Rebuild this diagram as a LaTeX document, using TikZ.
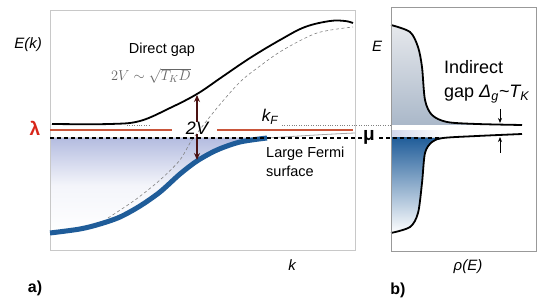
\documentclass[tikz,border=0pt]{standalone}
\usepackage[no-math]{fontspec}
\setmainfont{Liberation Sans}
\usetikzlibrary{arrows.meta, positioning}
\definecolor{bandblue}{HTML}{1F5C99}
\definecolor{fermired}{HTML}{C9553A}
\definecolor{lamred}{HTML}{D8261A}
\definecolor{gapbrown}{HTML}{4B1212}
\definecolor{shadelav}{HTML}{B4BCE0}
\definecolor{dosgray}{HTML}{E6E8EC}
\definecolor{dosblue}{HTML}{AAB8C9}
\definecolor{framegray}{HTML}{C8C8C8}

\begin{document}
\begin{tikzpicture}[x=1pt, y=-1pt, >=Stealth,
  lbl/.style={inner sep=0pt, font=\fontsize{15}{18}\selectfont\itshape},
  txt/.style={inner sep=0pt, align=left, font=\fontsize{14.5}{19}\selectfont},
  tag/.style={inner sep=0pt, font=\fontsize{16}{18}\selectfont\bfseries},
  gaparrow/.style={->, gapbrown, line width=1.4pt, >={Stealth[length=7pt,width=6pt]}},
  dosarrow/.style={->, line width=0.8pt, >={Stealth[length=5pt,width=4pt]}}]
  \useasboundingbox (0,0) rectangle (554,307);

  % panel a: bands
  \fill[top color=shadelav, bottom color=white, middle color=shadelav!15] (50,138) -- plot[smooth] coordinates
    {(267,138) (240,142) (217,150) (197,161) (180,174) (160,192) (140,206) (120,217) (100,224) (80,229) (50,233)} -- cycle;
  \draw[framegray, line width=1pt] (50,11) rectangle (355,250);
  \draw[fermired, line width=1.2pt] (50,130) -- (172,130) (217,130) -- (353,130);
  \draw[gray, dash pattern=on 3pt off 2.5pt, line width=0.6pt] plot[smooth] coordinates
    {(108,218) (135,200) (160,180) (180,160) (192,140) (217,108) (240,82) (260,66) (283,50) (317,33) (353,27)};
  \draw[gray!70, line width=0.8pt] (267,138) .. controls (300,136) and (330,134) .. (355,133);
  \draw[bandblue, line width=5pt] plot[smooth] coordinates
    {(50,233) (80,229) (100,224) (120,217) (140,206) (160,192) (180,174) (197,161) (217,150) (240,142) (267,138)};
  \draw[line width=1.8pt] plot[smooth, tension=0.6] coordinates
    {(52,124) (110,124) (140,121) (170,108) (197,94) (222,77) (250,58) (280,40) (305,27) (330,21) (345,21) (353,23)};
  \draw[gray, dotted] (127,125) -- (150,125);
  \draw[gray, dotted] (282,125) -- (391,125);

  \node[lbl, font=\fontsize{18}{20}\selectfont\itshape] (twoV) at (197,128) {2V};
  \coordinate (upBand) at (197,95);
  \coordinate (lowBand) at (197,160);
  \draw[gaparrow] (twoV.north) -- (upBand);
  \draw[gaparrow] (twoV.south) -- (lowBand);

  \node[lbl] (Ek) at (28,45) {E(k)};
  \node[tag, text=lamred, font=\fontsize{19}{20}\selectfont\bfseries] (lam) at (35,128) {λ};
  \node[inner sep=0pt, font=\fontsize{14.5}{17}\selectfont] (direct) at (162,50) {Direct gap};
  \node[inner sep=0pt, text=black!60, font=\fontsize{14.5}{17}\selectfont] (directEq) at (151,76) {$2V \sim \sqrt{T_K D}$};
  \node[lbl, font=\fontsize{17}{18}\selectfont\itshape] (kF) at (270,117) {k\textsubscript{F}};
  \node[txt, anchor=west] (fermi) at (266,162) {Large Fermi\\surface};
  \node[lbl] (kaxis) at (292,265) {k};
  \node[tag] (tagA) at (35,288) {a)};

  % panel b: density of states
  \fill[top color=dosgray, bottom color=dosblue] plot[smooth] coordinates
    {(391,25) (410,32) (418,47) (422,67) (425,100) (432,115) (447,122) (477,124) (522,125)} -- (391,125) -- cycle;
  \fill[left color=shadelav!60, right color=white] (391,131) rectangle (445,137);
  \fill[top color=bandblue, bottom color=white] plot[smooth] coordinates
    {(445,138) (432,142) (425,153) (422,183) (418,213) (410,227) (391,233)} -- (391,137) -- cycle;
  \draw[line width=1.8pt] plot[smooth] coordinates
    {(391,25) (410,32) (418,47) (422,67) (425,100) (432,115) (447,122) (477,124) (522,125)};
  \draw[line width=1.8pt] plot[smooth] coordinates
    {(522,134) (477,136) (443,138) (432,142) (425,153) (422,183) (418,213) (410,227) (391,233)};
  \draw[gray!80, line width=0.8pt] (391,7) rectangle (536,251);

  \draw[line width=1.4pt, dash pattern=on 4pt off 3pt] (50,138) -- (442,138);
  \node[tag, fill=white, inner sep=1pt, font=\fontsize{19}{20}\selectfont\bfseries] (mu) at (369,137) {μ};

  \coordinate (gapTopFrom) at (500,109);
  \coordinate (gapTopTo) at (500,123);
  \coordinate (gapBotFrom) at (500,153);
  \coordinate (gapBotTo) at (500,137);
  \draw[dosarrow] (gapTopFrom) -- (gapTopTo);
  \draw[dosarrow] (gapBotFrom) -- (gapBotTo);

  \node[lbl] (Eb) at (377,46) {E};
  \node[txt, anchor=west, font=\fontsize{18}{24}\selectfont] (indirect) at (444,82)
    {Indirect\\gap {\itshape Δ\textsubscript{g}\char`\~T\textsubscript{K}}};
  \node[lbl] (rho) at (468,267) {ρ(E)};
  \node[tag] (tagB) at (398,290) {b)};
\end{tikzpicture}
\end{document}
